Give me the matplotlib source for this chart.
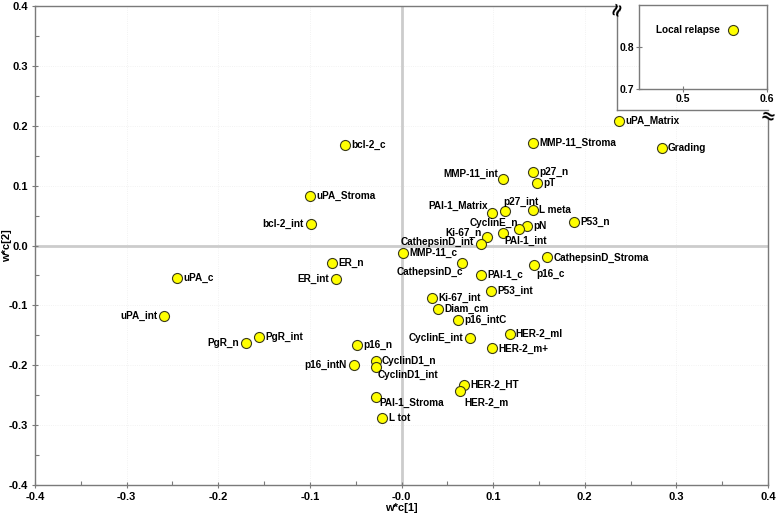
import matplotlib
matplotlib.use("Agg")
import matplotlib.pyplot as plt
from matplotlib.lines import Line2D
from matplotlib.ticker import MultipleLocator

plt.rcParams['font.family'] = ['Liberation Sans', 'DejaVu Sans']

# ---------------- data ----------------
names = ["uPA_Matrix", "MMP-11_Stroma", "Grading", "bcl-2_c", "p27_n", "pT",
         "MMP-11_int", "uPA_Stroma", "bcl-2_int", "p27_int", "L meta",
         "PAI-1_Matrix", "P53_n", "CyclinE_n", "pN", "PAI-1_int", "Ki-67_n",
         "CathepsinD_int", "MMP-11_c", "CathepsinD_c", "CathepsinD_Stroma",
         "p16_c", "PAI-1_c", "P53_int", "Ki-67_int", "Diam_cm", "p16_intC",
         "HER-2_ml", "CyclinE_int", "HER-2_m+", "HER-2_HT", "HER-2_m",
         "uPA_c", "uPA_int", "ER_n", "ER_int", "PgR_n", "PgR_int", "p16_n",
         "p16_intN", "CyclinD1_n", "CyclinD1_int", "PAI-1_Stroma", "L tot"]
wc1 = [0.2375, 0.1436, 0.284, -0.0617, 0.1436, 0.148,
       0.111, -0.0999, -0.099, 0.113, 0.1436,
       0.0988, 0.188, 0.1107, 0.137, 0.128, 0.093,
       0.0863, 0.0016, 0.066, 0.159,
       0.145, 0.087, 0.098, 0.033, 0.040, 0.062,
       0.118, 0.075, 0.099, 0.068, 0.064,
       -0.245, -0.259, -0.076, -0.0715, -0.170, -0.1555, -0.0486,
       -0.052, -0.028, -0.028, -0.028, -0.021]
wc2 = [0.208, 0.171, 0.163, 0.168, 0.123, 0.104,
       0.111, 0.083, 0.036, 0.058, 0.059,
       0.054, 0.039, 0.021, 0.033, 0.028, 0.014,
       0.002, -0.0125, -0.029, -0.020,
       -0.033, -0.050, -0.076, -0.087, -0.106, -0.124,
       -0.148, -0.155, -0.172, -0.233, -0.243,
       -0.054, -0.118, -0.029, -0.056, -0.163, -0.153, -0.166,
       -0.200, -0.193, -0.203, -0.253, -0.288]

inset_names = ["Local relapse"]
inset_wc1 = [0.56]
inset_wc2 = [0.84]

xticks = [-0.4, -0.3, -0.2, -0.1, 0.0, 0.1, 0.2, 0.3, 0.4]
xticklabels = ["-0.4", "-0.3", "-0.2", "-0.1", "-0.0", "0.1", "0.2", "0.3", "0.4"]
yticks = [-0.4, -0.3, -0.2, -0.1, 0.0, 0.1, 0.2, 0.3, 0.4]
yticklabels = ["-0.4", "-0.3", "-0.2", "-0.1", "0.0", "0.1", "0.2", "0.3", "0.4"]
inset_xticks = [0.5, 0.6]
inset_xticklabels = ["0.5", "0.6"]
inset_yticks = [0.7, 0.8]
inset_yticklabels = ["0.7", "0.8"]

# ---------------- label placement (style) ----------------
# (dx, dy) in points, ha
default_place = ((4.5, 0), 'left')
place = {
    "MMP-11_int": ((-4, 4), 'right'),
    "bcl-2_int": ((-5, 0), 'right'),
    "p27_int": ((-1, 6.5), 'left'),
    "PAI-1_Matrix": ((-3, 5.5), 'right'),
    "CyclinE_n": ((-6.5, 7), 'center'),
    "PAI-1_int": ((5, -9), 'center'),
    "Ki-67_n": ((-3.6, 3), 'right'),
    "CathepsinD_int": ((-5, 1.5), 'right'),
    "CathepsinD_c": ((0.5, -6.5), 'right'),
    "p16_c": ((1.5, -6.5), 'left'),
    "CyclinE_int": ((-5, 0), 'right'),
    "HER-2_m": ((3, -8.5), 'left'),
    "uPA_int": ((-5, 0), 'right'),
    "ER_int": ((-5, 0), 'right'),
    "PgR_n": ((-5, 0), 'right'),
    "p16_intN": ((-5, 0), 'right'),
    "CyclinD1_int": ((1.5, -6), 'left'),
    "PAI-1_Stroma": ((2.5, -4.5), 'left'),
}

W, H = 778, 522
fig = plt.figure(figsize=(W / 100, H / 100), dpi=100)

L, R, T, B = 35, 768, 6, 485
ax = fig.add_axes([L / W, 1 - B / H, (R - L) / W, (B - T) / H])
ax.set_xlim(-0.4, 0.4)
ax.set_ylim(-0.4, 0.4)

spine_col = '#7a7a7a'
for s in ['left', 'bottom']:
    ax.spines[s].set_color(spine_col)
    ax.spines[s].set_linewidth(1.0)
for s in ['top', 'right']:
    ax.spines[s].set_visible(False)

# partial top and right spines (cut-out for inset)
cut_x = 617
cut_y = 110
ax_top_end = (cut_x - L) / (R - L)
ax_right_start = (B - 120) / (B - T)
ax.add_line(Line2D([0, ax_top_end], [1, 1], transform=ax.transAxes,
                   color=spine_col, lw=1.0, clip_on=False))
ax.add_line(Line2D([1, 1], [0, ax_right_start], transform=ax.transAxes,
                   color=spine_col, lw=1.0, clip_on=False))
# inset frame lines in figure coords
fig.add_artist(Line2D([cut_x / W, cut_x / W], [1 - 13 / H, 1 - cut_y / H],
                      color=spine_col, lw=1.0))
fig.add_artist(Line2D([cut_x / W, R / W], [1 - cut_y / H, 1 - cut_y / H],
                      color=spine_col, lw=1.0))
fig.text(cut_x / W, 1 - 9 / H, "≈", fontsize=13, fontweight='bold',
         rotation=70, ha='center', va='center', color='black',
         family='DejaVu Sans')
fig.text((R - 1) / W, 1 - 117 / H, "≈", fontsize=13, fontweight='bold',
         rotation=-15, ha='center', va='center', color='black',
         family='DejaVu Sans')

ax.set_xticks(xticks)
ax.set_xticklabels(xticklabels)
ax.set_yticks(yticks)
ax.set_yticklabels(yticklabels)
ax.xaxis.set_minor_locator(MultipleLocator(0.05))
ax.yaxis.set_minor_locator(MultipleLocator(0.05))
ax.tick_params(which='major', direction='inout', length=5, width=0.8,
               color=spine_col, labelsize=8, pad=2.5)
ax.tick_params(which='minor', direction='in', length=3, width=0.8,
               color=spine_col)
for lab in ax.get_xticklabels() + ax.get_yticklabels():
    lab.set_fontweight('bold')

# faint dotted grid
for v in xticks[1:-1]:
    ax.axvline(v, color='#eeeeee', lw=0.6, ls=':', zorder=0)
for v in yticks[1:-1]:
    ax.axhline(v, color='#eeeeee', lw=0.6, ls=':', zorder=0)

# zero lines
ax.axvline(0, color='#cccccc', lw=2.0, zorder=1)
ax.axhline(0, color='#cccccc', lw=2.0, zorder=1)

ax.set_xlabel("w*c[1]", fontsize=8, fontweight='bold', labelpad=0.5)
ax.set_ylabel("w*c[2]", fontsize=8, fontweight='bold')
ax.yaxis.set_label_coords((12.5 - L) / (R - L), 0.5)

ax.scatter(wc1, wc2, s=52, c='#ffff00', edgecolors='#3a3a1a',
           linewidths=0.8, zorder=3)
for n, x, y in zip(names, wc1, wc2):
    (dx, dy), ha = place.get(n, default_place)
    ax.annotate(n, (x, y), xytext=(dx, dy), textcoords='offset points',
                ha=ha, va='center', fontsize=7.2, fontweight='bold', zorder=4)

# ---------------- inset ----------------
iL, iR, iT, iB = 639, 767, 5, 89
iax = fig.add_axes([iL / W, 1 - iB / H, (iR - iL) / W, (iB - iT) / H])
iax.set_xlim(0.448, 0.6)
iax.set_ylim(0.7, 0.9)
for s in iax.spines.values():
    s.set_color(spine_col)
    s.set_linewidth(1.0)
iax.set_xticks(inset_xticks)
iax.set_xticklabels(inset_xticklabels)
iax.set_yticks(inset_yticks)
iax.set_yticklabels(inset_yticklabels)
iax.tick_params(direction='inout', length=4, width=0.8, color=spine_col,
                labelsize=7.5, pad=1.5)
for lab in iax.get_xticklabels() + iax.get_yticklabels():
    lab.set_fontweight('bold')
iax.scatter(inset_wc1, inset_wc2, s=52, c='#ffff00', edgecolors='#3a3a1a',
            linewidths=0.8, zorder=3)
for n, x, y in zip(inset_names, inset_wc1, inset_wc2):
    iax.annotate(n, (x, y), xytext=(-10, 0), textcoords='offset points',
                 ha='right', va='center', fontsize=7.2, fontweight='bold')

fig.savefig("out.png", dpi=100)
